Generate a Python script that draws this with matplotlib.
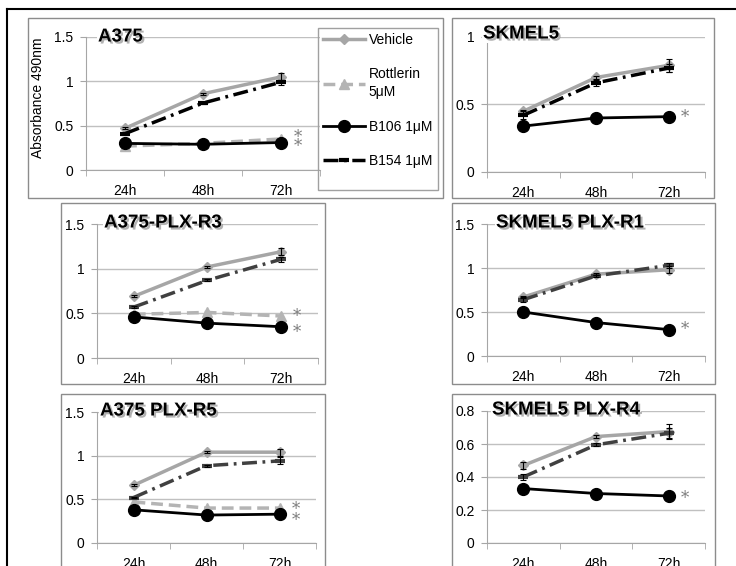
import numpy as np
import matplotlib
matplotlib.use("Agg")
import matplotlib.pyplot as plt
import matplotlib.patheffects as pe
from matplotlib.patches import Rectangle
from matplotlib.lines import Line2D

plt.rcParams["font.family"] = ["Liberation Sans", "DejaVu Sans"]

W, H = 736, 566

# Daten (Absorbance 490nm)
zeiten = ["24h", "48h", "72h"]
titel = ["A375", "SKMEL5", "A375-PLX-R3", "SKMEL5 PLX-R1", "A375 PLX-R5", "SKMEL5 PLX-R4"]

vehicle = [[0.47, 0.86, 1.05], [0.45, 0.70, 0.79], [0.69, 1.02, 1.19],
           [0.67, 0.93, 0.98], [0.66, 1.04, 1.04], [0.47, 0.645, 0.675]]
vehicle_err = [[0.01, 0.01, 0.04], [0.01, 0.01, 0.05], [0.01, 0.01, 0.04],
               [0.01, 0.01, 0.04], [0.01, 0.01, 0.04], [0.02, 0.01, 0.045]]
rottlerin = [[0.27, 0.30, 0.35], None, [0.49, 0.51, 0.47],
             None, [0.47, 0.40, 0.40], None]
b106 = [[0.30, 0.29, 0.31], [0.34, 0.40, 0.41], [0.46, 0.39, 0.35],
        [0.50, 0.38, 0.30], [0.38, 0.32, 0.33], [0.33, 0.30, 0.285]]
b154 = [[0.41, 0.755, 0.99], [0.42, 0.66, 0.77], [0.57, 0.87, 1.105],
        [0.64, 0.91, 1.03], [0.52, 0.885, 0.94], [0.40, 0.595, 0.665]]
b154_err = [[0.01, 0.01, 0.03], [0.03, 0.02, 0.03], [0.01, 0.01, 0.03],
            [0.03, 0.01, 0.03], [0.01, 0.01, 0.04], [0.02, 0.01, 0.03]]
sterne = [[0.37, 0.26], [0.40], [0.46, 0.28], [0.30], [0.38, 0.26], [0.27]]

ymax = [1.5, 1.0, 1.5, 1.5, 1.5, 0.8]
ystep = [0.5, 0.5, 0.5, 0.5, 0.5, 0.2]

# Layout in Pixeln: Achsen (x0, x1, ytop, ybottom), Kasten, Titel
achsen = [(86, 320, 37, 170), (487, 705, 37, 172), (97, 318, 224, 358),
          (487, 705, 224, 356), (97, 316, 412, 543), (487, 705, 411, 543)]
kasten = [(28, 443, 18, 198), (452, 714, 18, 198), (61, 325, 203, 384),
          (452, 715, 203, 384), (61, 325, 394, 620), (452, 715, 394, 620)]
titel_pos = [(98, 37), (483, 34), (104, 223), (496, 223), (100, 411), (492, 410)]

fig = plt.figure(figsize=(W / 100, H / 100), dpi=100)

# schwarzer Rahmen oben und links
fig.add_artist(Line2D([7 / W, 1], [1 - 9 / H, 1 - 9 / H], color="black", lw=1.5))
fig.add_artist(Line2D([7 / W, 7 / W], [0, 1 - 9 / H], color="black", lw=1.5))

x = np.arange(3)
handles = []
for i in range(6):
    bx0, bx1, by0, by1 = kasten[i]
    fig.add_artist(Rectangle((bx0 / W, 1 - by1 / H), (bx1 - bx0) / W, (by1 - by0) / H,
                             fill=False, edgecolor="#8c8c8c", lw=1))
    x0, x1, y0, y1 = achsen[i]
    ax = fig.add_axes([x0 / W, 1 - y1 / H, (x1 - x0) / W, (y1 - y0) / H])
    ax.patch.set_alpha(0)

    farbe154 = "black" if i < 2 else "#404040"
    l1, = ax.plot(x, vehicle[i], color="#a6a6a6", lw=2.5, marker="D", ms=5.5,
                  clip_on=False, zorder=3)
    if rottlerin[i] is not None:
        l2, = ax.plot(x, rottlerin[i], color="#b4b4b4", lw=2.5, ls=(0, (3.4, 1.7)),
                      marker="^", ms=7, clip_on=False, zorder=3)
    l3, = ax.plot(x, b106[i], color="black", lw=2, marker="o", ms=8.5,
                  clip_on=False, zorder=4)
    l4, = ax.plot(x, b154[i], color=farbe154, lw=2.5, ls=(0, (4.3, 1.6, 0.8, 1.6)),
                  marker="_", ms=7, mew=3, clip_on=False, zorder=5)
    ax.errorbar(x, vehicle[i], yerr=vehicle_err[i], fmt="none", ecolor="black",
                elinewidth=0.8, capsize=2.5, capthick=0.8, zorder=6, clip_on=False)
    ax.errorbar(x, b154[i], yerr=b154_err[i], fmt="none", ecolor="black",
                elinewidth=0.8, capsize=2.5, capthick=0.8, zorder=6, clip_on=False)
    if i == 0:
        handles = [l1, l2, l3, l4]

    for s in sterne[i]:
        ax.text(2.22, s, "*", fontsize=12, color="#7f7f7f", ha="center",
                va="center", family="DejaVu Serif", clip_on=False)

    ax.set_xlim(-0.5, 2.5)
    ax.set_ylim(0, ymax[i])
    ax.set_yticks(np.round(np.arange(0, ymax[i] + 1e-9, ystep[i]), 2))
    ax.set_yticklabels(["%g" % v for v in ax.get_yticks()])
    ax.set_xticks(x)
    ax.set_xticklabels(zeiten)
    ax.set_xticks([-0.5, 0.5, 1.5, 2.5], minor=True)
    ax.tick_params(axis="x", which="major", length=0, pad=10, labelsize=10)
    ax.tick_params(axis="x", which="minor", length=4, color="#a6a6a6", direction="out")
    ax.tick_params(axis="y", length=4.5, color="#a6a6a6", pad=4.5, labelsize=10)
    ax.yaxis.grid(True, color="#c0c0c0", lw=1)
    ax.set_axisbelow(True)
    for s in ["top", "right"]:
        ax.spines[s].set_visible(False)
    for s in ["left", "bottom"]:
        ax.spines[s].set_color("#a6a6a6")

    tx, ty = titel_pos[i]
    fig.text(tx / W, 1 - ty / H, titel[i], fontsize=13.5, fontweight="bold",
             ha="left", va="center", zorder=10,
             bbox=dict(facecolor="white", edgecolor="none", pad=0.5),
             path_effects=[pe.withSimplePatchShadow(offset=(1.5, -1.5),
                                                    shadow_rgbFace="#7f7f7f", alpha=0.6)])

fig.text(38 / W, 1 - 98 / H, "Absorbance 490nm", rotation=90, fontsize=10,
         ha="center", va="center")

# Legende
fig.add_artist(Rectangle((318 / W, 1 - 190 / H), 120 / W, 162 / H, fill=False,
                         edgecolor="#a0a0a0", lw=1, zorder=9))
leg = fig.legend(handles, ["Vehicle", "Rottlerin\n5μM", "B106 1μM", "B154 1μM"],
                 loc="upper left", bbox_to_anchor=(318 / W, 1 - 28 / H), borderaxespad=0,
                 frameon=False, fontsize=10, borderpad=0.35, labelspacing=1.45,
                 handlelength=3.0, handletextpad=0.3)
leg.get_texts()[1].set_linespacing(1.4)

fig.savefig("out.png", dpi=100)
